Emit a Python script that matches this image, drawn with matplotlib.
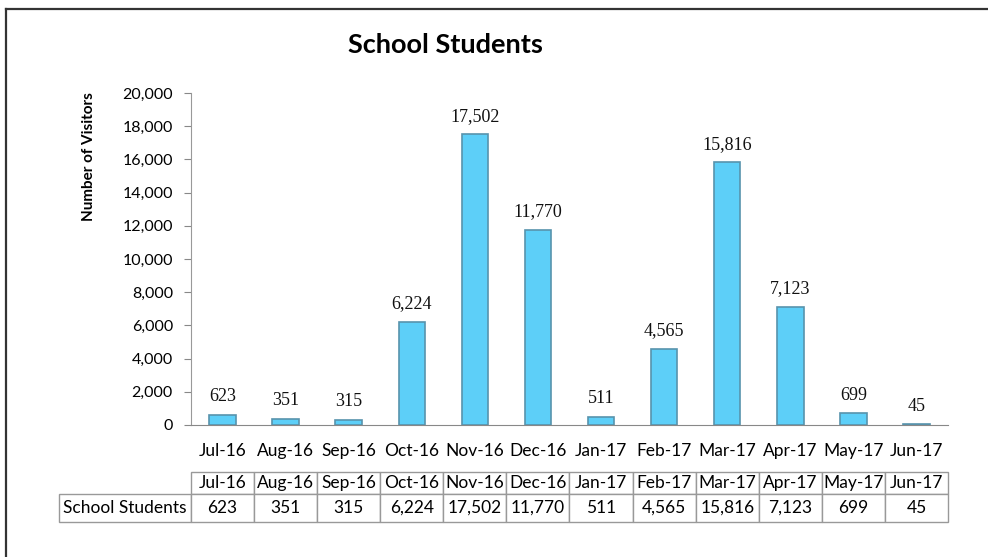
import numpy as np
import matplotlib.pyplot as plt
from matplotlib.lines import Line2D
from matplotlib.table import Table

# -------------------------- DATA --------------------------
months = ['Jul-16', 'Aug-16', 'Sep-16', 'Oct-16', 'Nov-16', 'Dec-16',
          'Jan-17', 'Feb-17', 'Mar-17', 'Apr-17', 'May-17', 'Jun-17']
visitors = [623, 351, 315, 6224, 17502, 11770, 511, 4565, 15816, 7123, 699, 45]
series_name = 'School Students'
y_ticks = [0, 2000, 4000, 6000, 8000, 10000, 12000, 14000, 16000, 18000, 20000]

sans = ['Lato', 'DejaVu Sans']
serif = ['Liberation Serif', 'DejaVu Serif']

# -------------------------- FIGURE --------------------------
fig = plt.figure(figsize=(9.88, 5.57), dpi=100)
ax = fig.add_axes([0.1933, 0.237, 0.7662, 0.596])

x = np.arange(len(months))
bars = ax.bar(x, visitors, width=0.42, color='#5DCFF8',
              edgecolor='#5793ad', linewidth=1.2, zorder=2)

for xi, v in zip(x, visitors):
    ax.annotate(f'{v:,}', (xi, v), xytext=(0, 7), textcoords='offset points',
                ha='center', va='bottom', fontsize=13, family=serif,
                color='#111111')

ax.set_xlim(-0.5, len(months) - 0.5)
ax.set_ylim(0, 20000)
ax.set_yticks(y_ticks)
ax.set_yticklabels([f'{t:,}' for t in y_ticks], family=sans, fontsize=11.5)
ax.set_xticks(x)
ax.set_xticklabels(months, family=sans, fontsize=12.5)
ax.tick_params(axis='x', length=0, pad=13)
ax.tick_params(axis='y', length=5, color='#888888', pad=8)

for s in ['top', 'right']:
    ax.spines[s].set_visible(False)
ax.spines['left'].set_color('#999999')
ax.spines['bottom'].set_color('#888888')

ax.set_ylabel('Number of Visitors', family=sans, fontsize=11,
              fontweight='bold')
ax.yaxis.set_label_coords(-0.1255, 0.81)

fig.text(0.451, 0.919, 'School Students', ha='center', va='center',
         family=sans, fontsize=19.5, fontweight='bold')

# -------------------------- DATA TABLE --------------------------
# widths in axes units: 12 month columns fill the axes width,
# the row-label column sits to the left of the axes
col_w = 1.0 / len(months)
label_w = 132 / 757
head_h, body_h = 22.6, 28.0
tbl = Table(ax, bbox=[0, -0.292, 1, 0.1516])
for c, m in enumerate(months):
    tbl.add_cell(0, c, col_w, head_h, text=m, loc='center')
    tbl.add_cell(1, c, col_w, body_h, text=f'{visitors[c]:,}', loc='center')
tbl.add_cell(1, -1, label_w, body_h, text=series_name, loc='left')
tbl.auto_set_font_size(False)
for (r, c), cell in tbl.get_celld().items():
    cell.set_edgecolor('#999999')
    cell.set_linewidth(1.0)
    cell.get_text().set_fontsize(12.5)
    cell.get_text().set_family(sans)
    cell.PAD = 0.03
ax.add_table(tbl)

# -------------------------- CHART BORDER (top/left only) --------------------------
fig.add_artist(Line2D([0.0065, 0.0065], [0, 0.984], transform=fig.transFigure,
                      color='#333333', linewidth=1.6))
fig.add_artist(Line2D([0.0065, 1.0], [0.984, 0.984], transform=fig.transFigure,
                      color='#333333', linewidth=1.6))

fig.savefig('out.png', dpi=100)
